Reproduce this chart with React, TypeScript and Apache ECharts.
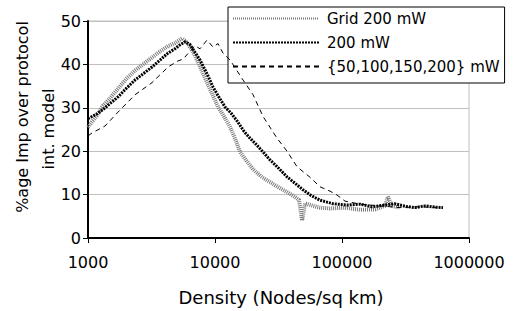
import React, { useEffect, useRef } from "react";
import * as echarts from "echarts";

const seriesNames = ["Grid 200 mW", "200 mW", "{50,100,150,200} mW"];

const gridDensity = [1000, 1075, 1178, 1313, 1491, 1722, 1991, 2344, 2710, 3192, 3690, 4266, 4840, 5500, 6020, 6700, 7620, 8660, 9640, 10560, 11780, 13140, 14660, 15770, 17900, 19930, 23500, 27120, 31960, 36880, 41900, 45900, 48500, 51200, 59300, 67000, 80400, 105000, 139000, 182000, 218000, 230000, 248000, 286000];
const gridValues = [25.5, 26.8, 28.2, 30.5, 32.2, 34.4, 36.6, 38.6, 40.0, 41.6, 43.0, 44.2, 44.9, 46.0, 45.0, 43.0, 39.5, 35.8, 32.8, 30.2, 28.0, 25.6, 22.3, 19.8, 17.6, 15.8, 14.0, 12.9, 11.6, 10.6, 9.6, 8.8, 4.0, 8.0, 7.4, 7.0, 6.8, 7.0, 6.5, 6.6, 7.4, 9.5, 7.4, 7.0];

const mw200Density = [1000, 1075, 1178, 1313, 1491, 1722, 1991, 2344, 2710, 3192, 3690, 4266, 4840, 5297, 5800, 6350, 6950, 7620, 8660, 9640, 10560, 11990, 13350, 14900, 16900, 18870, 21030, 23900, 27120, 31390, 36880, 42700, 49330, 57100, 67100, 85000, 109400, 139000, 172000, 218000, 260000, 313000, 376000, 451000, 541000, 623000];
const mw200Values = [27.5, 28.0, 28.6, 29.6, 31.0, 32.5, 34.4, 36.4, 37.8, 39.4, 41.0, 42.6, 43.6, 44.5, 45.2, 44.6, 42.8, 41.0, 37.8, 34.8, 32.8, 30.2, 28.8, 27.0, 24.6, 23.0, 21.6, 19.8, 18.0, 16.2, 14.1, 12.6, 11.1, 9.8, 8.7, 7.9, 7.6, 7.8, 7.2, 7.6, 7.9, 7.3, 7.0, 7.4, 7.1, 7.0];

const mixDensity = [1000, 1075, 1361, 1722, 2344, 3192, 4266, 5110, 5600, 6950, 7620, 8650, 9640, 10560, 11560, 13140, 16630, 19930, 23900, 30800, 36900, 44300, 56000, 67100, 80400, 91400, 105600, 139000, 199000, 286000, 410000, 623000];
const mixValues = [23.5, 24.2, 25.8, 29.0, 33.0, 35.8, 39.4, 40.8, 41.2, 44.3, 43.6, 45.6, 44.0, 44.8, 42.6, 41.0, 36.4, 33.0, 28.0, 23.0, 20.0, 16.4, 14.0, 11.8, 10.8, 9.9, 8.5, 7.8, 7.4, 7.0, 7.2, 6.9];

const yTicks = [0, 10, 20, 30, 40, 50];
const xTicks = [1000, 10000, 100000, 1000000];

const yTitle1 = "%age Imp over protocol";
const yTitle2 = "int. model";
const xTitle = "Density (Nodes/sq km)";

const FONT = "DejaVu Sans";

function pairs(xs: number[], ys: number[]) {
  return xs.map((x, i) => [x, ys[i]]);
}

export default function App() {
  const ref = useRef<HTMLDivElement>(null);
  useEffect(() => {
    if (!ref.current) return;
    const chart = echarts.init(ref.current, null, { renderer: "svg" });
    chart.setOption({
      animation: false,
      backgroundColor: "#fff",
      grid: {
        left: 88,
        right: 48,
        top: 21,
        bottom: 73,
        show: true,
        borderColor: "#c0c0c0",
        borderWidth: 1,
        backgroundColor: "transparent",
      },
      legend: {
        data: seriesNames,
        orient: "vertical",
        left: 228,
        top: 7,
        padding: [4, 5, 9, 4],
        itemWidth: 86,
        itemHeight: 14,
        itemGap: 9,
        backgroundColor: "#fff",
        borderColor: "#000",
        borderWidth: 1,
        itemStyle: { opacity: 0 },
        textStyle: { fontFamily: FONT, fontSize: 15, color: "#000", padding: [0, 0, 0, 3] },
      },
      xAxis: {
        type: "log",
        logBase: 10,
        min: xTicks[0],
        max: xTicks[xTicks.length - 1],
        axisLine: { lineStyle: { color: "#000", width: 2 } },
        axisTick: { show: true, inside: false, length: 5, lineStyle: { color: "#000", width: 1 } },
        minorTick: { show: false },
        splitLine: { show: false },
        axisLabel: {
          color: "#000",
          fontFamily: FONT,
          fontSize: 16,
          margin: 16,
          formatter: (v: number) => String(Math.round(v)),
        },
      },
      yAxis: {
        type: "value",
        min: yTicks[0],
        max: yTicks[yTicks.length - 1],
        interval: 10,
        axisLine: { show: true, lineStyle: { color: "#000", width: 2 } },
        axisTick: { show: true, inside: false, length: 5, lineStyle: { color: "#000", width: 1 } },
        splitLine: { show: true, lineStyle: { color: "#c0c0c0", width: 1 } },
        axisLabel: { color: "#000", fontFamily: FONT, fontSize: 16, margin: 7 },
      },
      graphic: [
        {
          type: "text",
          x: 22,
          y: 117,
          rotation: Math.PI / 2,
          style: { text: yTitle1, font: `16px "${FONT}"`, fill: "#000", textAlign: "center", textVerticalAlign: "middle" },
        },
        {
          type: "text",
          x: 48,
          y: 129,
          rotation: Math.PI / 2,
          style: { text: yTitle2, font: `16px "${FONT}"`, fill: "#000", textAlign: "center", textVerticalAlign: "middle" },
        },
        {
          type: "text",
          x: 281,
          y: 297,
          style: { text: xTitle, font: `18px "${FONT}"`, fill: "#000", textAlign: "center", textVerticalAlign: "middle" },
        },
      ],
      series: [
        {
          name: seriesNames[0],
          type: "line",
          symbol: "none",
          data: pairs(gridDensity, gridValues),
          lineStyle: { color: "#7a7a7a", width: 4, type: [1, 1] },
          itemStyle: { color: "#7a7a7a" },
          z: 2,
        },
        {
          name: seriesNames[1],
          type: "line",
          symbol: "none",
          data: pairs(mw200Density, mw200Values),
          lineStyle: { color: "#000", width: 3, type: [2, 1] },
          itemStyle: { color: "#000" },
          z: 3,
        },
        {
          name: seriesNames[2],
          type: "line",
          symbol: "none",
          data: pairs(mixDensity, mixValues),
          lineStyle: { color: "#000", width: 1, type: [5, 4] },
          itemStyle: { color: "#000" },
          z: 4,
        },
      ],
    });
    return () => chart.dispose();
  }, []);
  return <div ref={ref} style={{ position: "fixed", left: 0, top: 0, width: 517, height: 311 }} />;
}
